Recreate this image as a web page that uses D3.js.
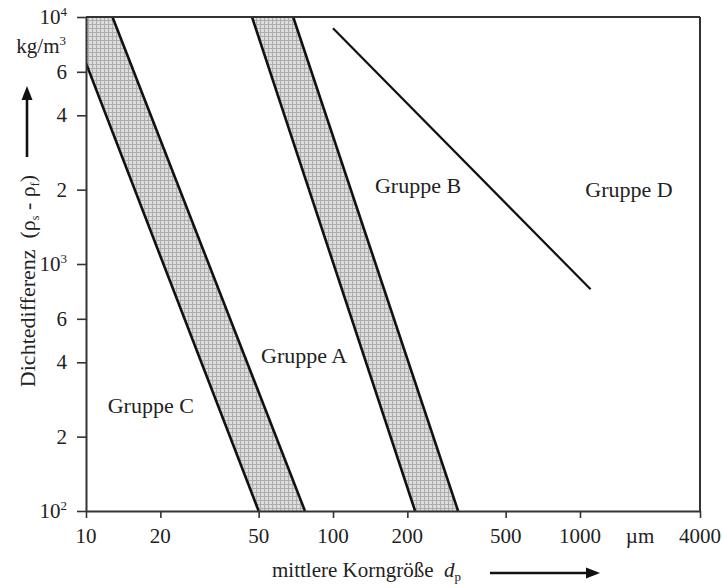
<!DOCTYPE html>
<html><head><meta charset="utf-8">
<script src="https://cdn.jsdelivr.net/npm/d3@7/dist/d3.min.js"></script>
<style>
html,body{margin:0;padding:0;background:#fff;}
svg{display:block;font-family:"Liberation Serif","Times New Roman",serif;}
</style></head>
<body>
<svg id="chart" width="722" height="588"></svg>
<script>
// ---- data ----
const xTicks = [10, 20, 50, 100, 200, 500, 1000, 4000];
const xTickLabels = ["10", "20", "50", "100", "200", "500", "1000", "4000"];
const yTicks = [100, 200, 400, 600, 1000, 2000, 4000, 6000, 10000];
const yTickBase = ["10", "2", "4", "6", "10", "2", "4", "6", "10"];
const yTickSup  = ["2", "", "", "", "3", "", "", "", "4"];

// boundary C/A (shaded band)
const bandCA_left  = [[10, 6500], [50, 100]];
const bandCA_right = [[12.8, 10000], [77, 100]];
// boundary A/B (shaded band)
const bandAB_left  = [[47, 10000], [215, 100]];
const bandAB_right = [[69, 10000], [321, 100]];
// boundary B/D
const lineBD = [[100, 9000], [1130, 790]];

const groupNames = ["Gruppe C", "Gruppe A", "Gruppe B", "Gruppe D"];
const groupX = [18.3, 76.4, 221, 1762];
const groupY = [250, 397, 1936, 1866];

const unitX = 2000;   // position of the "µm" unit label on the x axis

// ---- scales ----
const svg = d3.select("#chart");
const L = 86, R = 700, T = 17, B = 511;
const x = d3.scaleLog().domain([10, 1000, 4000]).range([L, 580, R]);
const y = d3.scaleLog().domain([100, 10000]).range([B, T]);

const defs = svg.append("defs");
const pat = defs.append("pattern").attr("id", "hatch")
  .attr("width", 4).attr("height", 4).attr("patternUnits", "userSpaceOnUse");
pat.append("rect").attr("width", 4).attr("height", 4).attr("fill", "#dedede");
pat.append("path").attr("d", "M0 0.5H4M0.5 0V4").attr("stroke", "#adadad").attr("stroke-width", 1.1);
defs.append("clipPath").attr("id", "plotclip").append("rect")
  .attr("x", L).attr("y", T).attr("width", R - L).attr("height", B - T);

const plot = svg.append("g").attr("clip-path", "url(#plotclip)");
const line = d3.line().x(d => x(d[0])).y(d => y(d[1]));

// shaded bands
const bandCA = [[10, 10000], bandCA_right[0], bandCA_right[1], bandCA_left[1], bandCA_left[0]];
const bandAB = [bandAB_left[0], bandAB_right[0], bandAB_right[1], bandAB_left[1]];
[bandCA, bandAB].forEach(poly => {
  plot.append("path").attr("d", line(poly) + "Z").attr("fill", "url(#hatch)").attr("stroke", "none");
});
[bandCA_left, bandCA_right, bandAB_left, bandAB_right].forEach(seg => {
  plot.append("path").attr("d", line(seg)).attr("fill", "none")
    .attr("stroke", "#111").attr("stroke-width", 2.6);
});
plot.append("path").attr("d", line(lineBD)).attr("fill", "none")
  .attr("stroke", "#111").attr("stroke-width", 2.2);

// axes
const axisColor = "#333";
const xAxis = d3.axisBottom(x).tickValues(xTicks).tickSize(7).tickSizeOuter(0).tickFormat(() => "");
const yAxis = d3.axisLeft(y).tickValues(yTicks).tickSize(9).tickSizeOuter(0).tickFormat(() => "");
const gx = svg.append("g").attr("transform", `translate(0,${B})`).call(xAxis);
const gy = svg.append("g").attr("transform", `translate(${L},0)`).call(yAxis);
[gx, gy].forEach(g => {
  g.select(".domain").attr("stroke", axisColor).attr("stroke-width", 2);
  g.selectAll(".tick line").attr("stroke", axisColor).attr("stroke-width", 1.6);
});
// top and right frame
svg.append("line").attr("x1", L).attr("x2", R).attr("y1", T).attr("y2", T)
  .attr("stroke", axisColor).attr("stroke-width", 2.2);
svg.append("line").attr("x1", R).attr("x2", R).attr("y1", T).attr("y2", B)
  .attr("stroke", axisColor).attr("stroke-width", 2);

// x tick labels
svg.append("g").selectAll("text").data(xTicks).join("text")
  .attr("x", d => x(d)).attr("y", 543).attr("text-anchor", "middle")
  .attr("font-size", 21).attr("fill", "#222")
  .text((d, i) => xTickLabels[i]);
svg.append("text").attr("x", x(unitX)).attr("y", 543).attr("text-anchor", "middle")
  .attr("font-size", 21).attr("fill", "#222").text("µm");

// y tick labels
const yl = svg.append("g").selectAll("text").data(yTicks).join("text")
  .attr("x", 67).attr("y", d => y(d) + 7).attr("text-anchor", "end")
  .attr("font-size", 21).attr("fill", "#222");
yl.each(function(d, i) {
  const t = d3.select(this);
  t.append("tspan").text(yTickBase[i]);
  if (yTickSup[i]) t.append("tspan").attr("font-size", 13).attr("dy", -8).text(yTickSup[i]);
});
// unit kg/m³
const ku = svg.append("text").attr("x", 66).attr("y", 53).attr("text-anchor", "end")
  .attr("font-size", 21).attr("fill", "#222");
ku.append("tspan").text("kg/m");
ku.append("tspan").attr("font-size", 13).attr("dy", -8).text("3");

// group labels
svg.append("g").selectAll("text").data(groupNames).join("text")
  .attr("x", (d, i) => x(groupX[i])).attr("y", (d, i) => y(groupY[i]))
  .attr("text-anchor", "middle").attr("font-size", 22).attr("fill", "#222")
  .text(d => d);

// x axis title
const xt = svg.append("text").attr("x", 272).attr("y", 577).attr("font-size", 21).attr("fill", "#222");
xt.append("tspan").text("mittlere Korngröße\u2002");
xt.append("tspan").attr("font-style", "italic").text("d");
xt.append("tspan").attr("font-size", 13).attr("dy", 4).text("p");
// arrow
svg.append("line").attr("x1", 490).attr("x2", 588).attr("y1", 573).attr("y2", 573)
  .attr("stroke", "#111").attr("stroke-width", 2.6);
svg.append("path").attr("d", "M600,573 L586,567.5 L586,578.5 Z").attr("fill", "#111");

// y axis title (rotated)
const yt = svg.append("text").attr("transform", "translate(35,281) rotate(-90)")
  .attr("text-anchor", "middle").attr("font-size", 22).attr("fill", "#222");
yt.append("tspan").text("Dichtedifferenz\u2002(ρ");
yt.append("tspan").attr("font-size", 12).attr("dy", 4).text("s");
yt.append("tspan").attr("dy", -4).text(" - ρ");
yt.append("tspan").attr("font-size", 12).attr("dy", 4).text("f");
yt.append("tspan").attr("dy", -4).text(")");
svg.append("line").attr("x1", 27).attr("x2", 27).attr("y1", 157).attr("y2", 99)
  .attr("stroke", "#111").attr("stroke-width", 2.6);
svg.append("path").attr("d", "M27,86 L21.5,100 L32.5,100 Z").attr("fill", "#111");
</script>
</body></html>
